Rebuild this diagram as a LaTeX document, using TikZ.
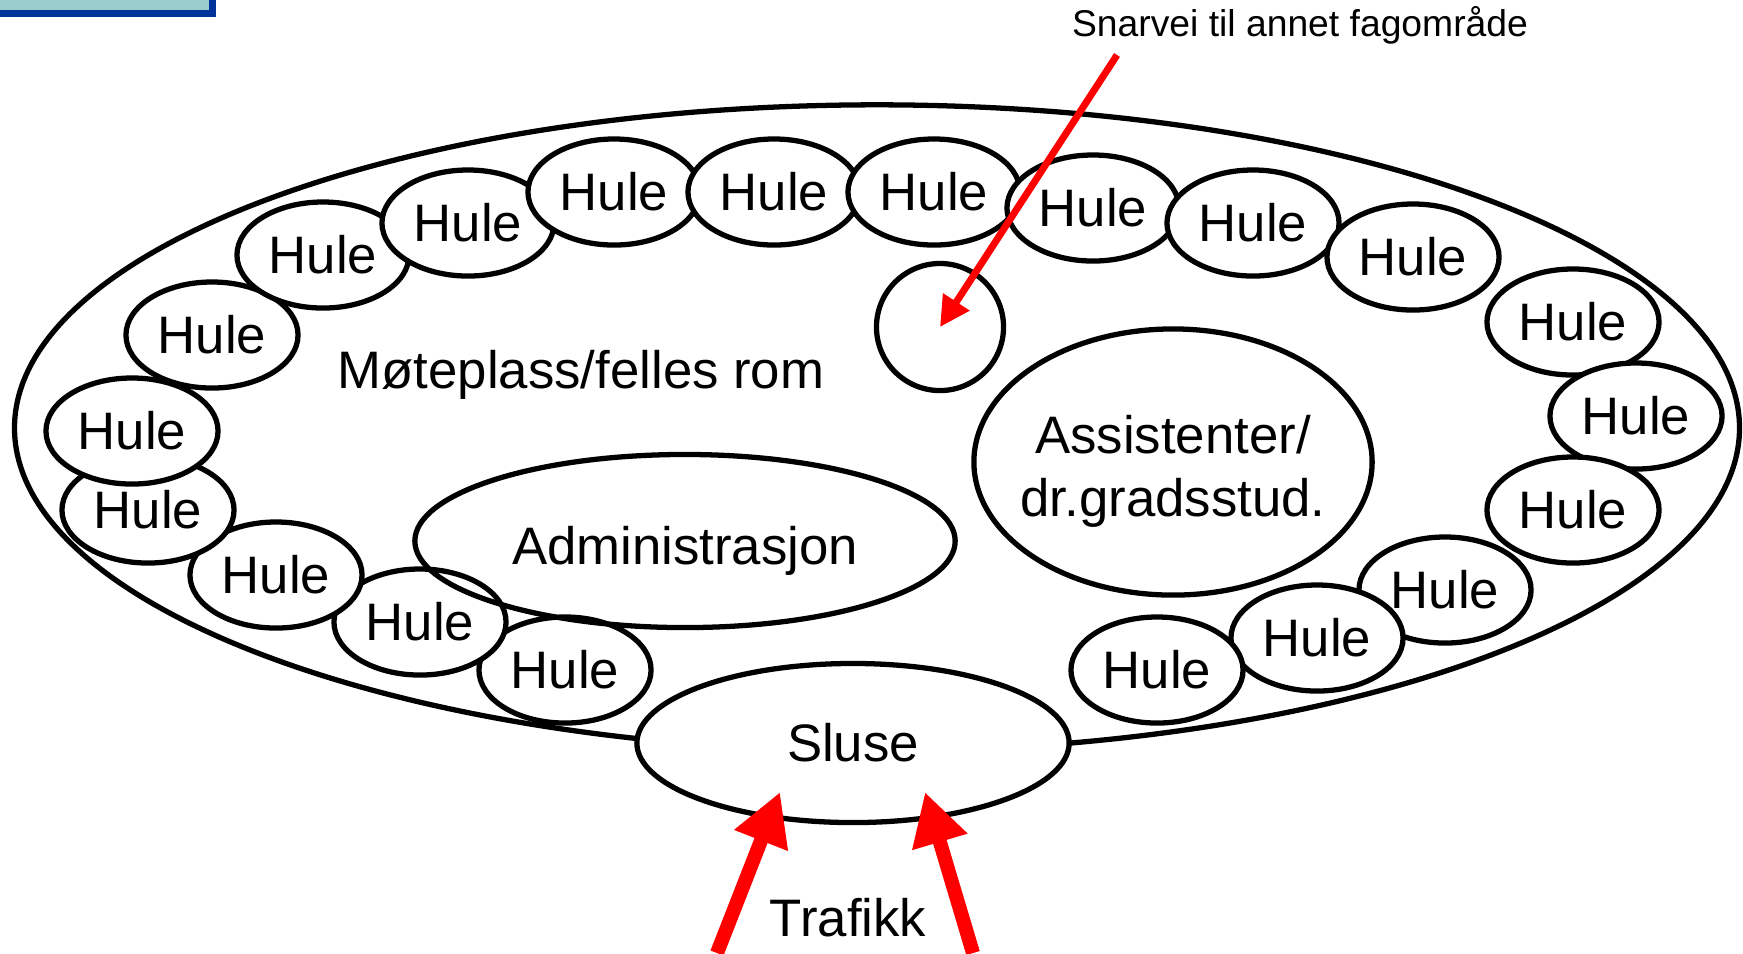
\documentclass[tikz,border=0pt]{standalone}
\usepackage{fontspec}
\setmainfont{Liberation Sans}
\usetikzlibrary{shapes.geometric,arrows.meta}

\definecolor{boxfill}{RGB}{153,204,204}
\definecolor{boxline}{RGB}{0,51,153}

\begin{document}
\begin{tikzpicture}[x=0.01cm,y=-0.01cm,
  hule/.style={ellipse,draw,line width=1.5pt,fill=white,inner sep=0pt,
    minimum width=1.72cm,minimum height=1.06cm,font=\fontsize{15}{18}\selectfont},
  rom/.style={ellipse,draw,line width=1.5pt,inner sep=0pt},
  tekst/.style={anchor=base,inner sep=0pt,font=\fontsize{15}{18}\selectfont},
  trafikkpil/.style={draw=red,line width=0.14cm,-{Triangle[length=0.52cm,width=0.54cm]}},
  snarveipil/.style={draw=red,line width=0.07cm,-{Triangle[length=0.3cm,width=0.3cm]}}]
\useasboundingbox (0,0) rectangle (1743,953);

% corner of a box from the slide
\draw[boxline,line width=0.07cm,fill=boxfill] (-40,-40) rectangle (212,13);

% the whole area
\node[rom,minimum width=17.24cm,minimum height=6.46cm] (omrade) at (877,428) {};

% caves along the edge
\node[hule] (h13) at (565,670) {Hule};
\node[hule] (h14) at (420,622) {Hule};
\node[hule] (h15) at (276,575) {Hule};
\node[hule] (h16) at (148,510) {Hule};
\node[hule] (h17) at (132,431) {Hule};
\node[hule] (h18) at (212,335) {Hule};
\node[hule] (h19) at (323,255) {Hule};
\node[hule] (h20) at (468,223) {Hule};
\node[hule] (h1) at (614,192) {Hule};
\node[hule] (h2) at (774,192) {Hule};
\node[hule] (h3) at (934,192) {Hule};
\node[hule] (h4) at (1093,208) {Hule};
\node[hule] (h5) at (1253,223) {Hule};
\node[hule] (h6) at (1413,257) {Hule};
\node[hule] (h7) at (1573,322) {Hule};
\node[hule] (h8) at (1636,416) {Hule};
\node[hule] (h9) at (1573,510) {Hule};
\node[hule] (h10) at (1445,590) {Hule};
\node[hule] (h11) at (1317,638) {Hule};
\node[hule] (h12) at (1157,670) {Hule};

% rooms inside
\node[rom,minimum width=5.40cm,minimum height=1.73cm] (admin) at (685,541) {};
\node[tekst] (admintekst) at (685,564) {Administrasjon};
\node[rom,minimum width=3.98cm,minimum height=2.66cm] (assist) at (1173,462) {};
\node[tekst] (assisttekstA) at (1173,453) {Assistenter/};
\node[tekst] (assisttekstB) at (1173,516) {dr.gradsstud.};
\node[circle,draw,line width=1.5pt,minimum size=1.27cm,inner sep=0pt] (hull) at (940,327) {};
\node[tekst] (mote) at (581,388) {Møteplass/felles rom};
\node[rom,fill=white,minimum width=4.32cm,minimum height=1.59cm,
  font=\fontsize{15}{18}\selectfont] (sluse) at (853,743) {Sluse};

% shortcut
\node[anchor=base,inner sep=0pt,font=\fontsize{10.6}{13}\selectfont] (snarvei) at (1300,36) {Snarvei til annet fagområde};
\coordinate (snarveistart) at (1117,55);
\draw[snarveipil] (snarveistart) -- (hull.center);

% traffic in through the lock
\node[tekst] (trafikk) at (848,936) {Trafikk};
\coordinate (innV) at (717,953);
\coordinate (innH) at (973,953);
\coordinate (sluseV) at (780,792);
\coordinate (sluseH) at (925,792);
\draw[trafikkpil] (innV) -- (sluseV);
\draw[trafikkpil] (innH) -- (sluseH);
\end{tikzpicture}
\end{document}
